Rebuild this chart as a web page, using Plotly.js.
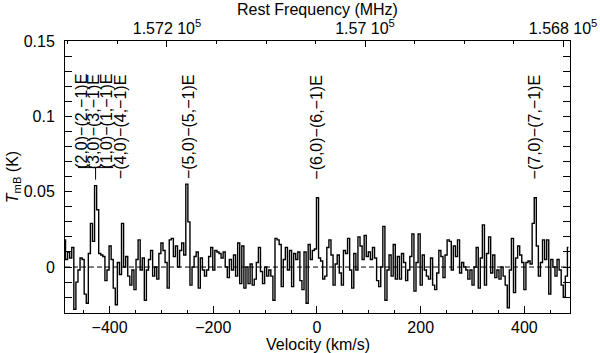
<!DOCTYPE html>
<html>
<head>
<meta charset="utf-8">
<script src="https://cdn.plot.ly/plotly-3.0.1.min.js"></script>
<style>
  html, body { margin: 0; padding: 0; background: #fff; }
  #chart { width: 600px; height: 353px; }
</style>
</head>
<body>
<div id="chart"></div>
<script>
// channel grid of the spectrum (km/s)
const v0 = -487;
const dv = 4;

// main-beam temperature per channel, in mK
const tmbMilliK = [
  18, 5, 10, 6, 13, -28, -10, -2, 6, 5,
  -18, -24, 9, 29, 17, 54, 38, 9, 8, 7,
  -9, -2, 14, 5, -14, -25, 3, -5, 29, 0,
  7, -6, -12, -2, -15, 5, 18, -2, 6, -22,
  -2, 5, 11, -6, 0, -8, 9, 16, 11, 3,
  -14, 18, 19, 7, 14, 0, 11, 16, 8, 55,
  30, -12, 0, 7, 10, -14, 6, -2, -6, -2,
  7, 13, -2, 11, 10, 9, 6, 10, 0, -7,
  5, -2, 8, -6, 16, -11, 14, -14, 0, -11,
  2, -12, -8, 3, 13, -3, -11, 0, -6, -2,
  -6, -22, 19, 18, 15, -13, 5, 13, -2, 11,
  -13, 9, 5, 10, -9, -15, 10, -24, 15, 5,
  11, 12, 46, 6, 4, -8, -6, 13, 18, 8,
  -12, 2, 8, -4, -12, 11, 9, 19, -2, -14,
  9, -2, 20, 14, 5, 21, 7, 10, 5, 13,
  6, -9, -13, 0, 27, -22, -2, 8, -6, 15,
  -8, 7, -8, 9, 3, -9, -2, 7, 22, -16,
  3, 22, -12, 8, -2, -6, -8, 6, -12, -15,
  -4, 11, 7, -7, 8, 18, 17, -2, 14, 7,
  18, -4, 3, 0, -2, -8, -2, -12, 0, 13,
  -14, 6, 28, -12, 9, 20, -4, 8, -7, -2,
  -8, 0, -6, -12, -27, -2, 19, -17, 6, 14,
  8, 3, -15, 3, 4, 2, 29, 46, 14, -6,
  3, 18, 5, 18, -18, 5, 0, -6, 5, -2,
  -12, -20, -6, 13
];
const velocity = tmbMilliK.map((_, i) => v0 + i * dv);
const tmb = tmbMilliK.map(t => t / 1000);

// line identifications (the first three are blended, joined by a bracket)
const lineLabels = [
  '(2,0)−(2,−1)E', '(3,0)−(3,−1)E', '(1,0)−(1,−1)E', '−(4,0)−(4,−1)E',
  '−(5,0)−(5,−1)E', '−(6,0)−(6,−1)E', '−(7,0)−(7,−1)E'
];
const lineVelocities = [-453, -431, -405, -379, -248, 0, 420];
const labelTop = 0.1293;
const bracketLevel = 0.066;
const bracketSpan = [-461, -393];
const bracketVelocity = -427;
const bracketFoot = 0.058;

// top axis: rest frequency (MHz)
const freqRange = [157303, 156793];
const freqTicks = [157200, 157000, 156800];
const freqTickText = ['1.572 10<sup>5</sup>', '1.57 10<sup>5</sup>', '1.568 10<sup>5</sup>'];

const font = {family: '"Liberation Sans", Arial, sans-serif', size: 16, color: '#000'};

const traces = [{
    x: velocity,
    y: tmb,
    type: 'scatter',
    mode: 'lines',
    line: {shape: 'hvh', color: '#000', width: 1.4},
    hoverinfo: 'skip',
    showlegend: false
}, {
    // carries the frequency axis
    x: freqTicks,
    y: freqTicks.map(() => null),
    xaxis: 'x2',
    type: 'scatter',
    mode: 'lines',
    hoverinfo: 'skip',
    showlegend: false
}];

const annotations = lineLabels.map((txt, i) => ({
    text: txt,
    x: lineVelocities[i],
    y: labelTop,
    xref: 'x',
    yref: 'y',
    textangle: -90,
    showarrow: false,
    xanchor: 'center',
    yanchor: 'top',
    font: font
}));

annotations.push({
    text: 'Velocity (km/s)', xref: 'paper', yref: 'paper', x: 0.5, y: 0,
    yshift: -31, showarrow: false, xanchor: 'center', yanchor: 'middle', font: font
});
annotations.push({
    text: 'Rest Frequency (MHz)', xref: 'paper', yref: 'paper', x: 0.5, y: 1,
    yshift: 32, showarrow: false, xanchor: 'center', yanchor: 'middle', font: font
});

const layout = {
    width: 600,
    height: 353,
    margin: {l: 65, r: 30, t: 41, b: 40},
    paper_bgcolor: '#fff',
    plot_bgcolor: '#fff',
    font: font,
    showlegend: false,
    xaxis: {
        range: [-486, 488],
        dtick: 200,
        ticks: 'inside',
        ticklen: 7,
        tickcolor: '#000',
        showline: true,
        linecolor: '#000',
        linewidth: 1,
        showgrid: false,
        zeroline: false,
        tickfont: font,
        minor: {ticks: 'inside', dtick: 50, ticklen: 3.5, tickcolor: '#000', showgrid: false}
    },
    xaxis2: {
        overlaying: 'x',
        side: 'top',
        anchor: 'y',
        range: freqRange,
        tickmode: 'array',
        tickvals: freqTicks,
        ticktext: freqTickText,
        ticks: 'inside',
        ticklen: 6,
        tickcolor: '#000',
        showline: true,
        linecolor: '#000',
        linewidth: 1,
        showgrid: false,
        zeroline: false,
        tickfont: font,
        minor: {ticks: 'inside', dtick: 50, tick0: 156800, ticklen: 3, tickcolor: '#000', showgrid: false}
    },
    yaxis: {
        title: {text: '<i>T</i><sub>mB</sub> (K)', font: font, standoff: 1},
        range: [-0.0305, 0.15],
        dtick: 0.05,
        ticks: 'inside',
        ticklen: 7,
        tickcolor: '#000',
        showline: true,
        linecolor: '#000',
        linewidth: 1,
        mirror: 'allticks',
        showgrid: false,
        zeroline: false,
        tickfont: font,
        ticklabelstandoff: 6,
        minor: {ticks: 'inside', dtick: 0.01, ticklen: 3.5, tickcolor: '#000', showgrid: false}
    },
    shapes: [{
        type: 'line',
        xref: 'paper', x0: 0, x1: 1,
        yref: 'y', y0: 0, y1: 0,
        line: {color: '#000', width: 1, dash: '5px,3px'},
        layer: 'below'
    }, {
        // bracket joining the blended labels
        type: 'line',
        xref: 'x', x0: bracketSpan[0], x1: bracketSpan[1],
        yref: 'y', y0: bracketLevel, y1: bracketLevel,
        line: {color: '#000', width: 1}
    }, {
        type: 'line',
        xref: 'x', x0: bracketVelocity, x1: bracketVelocity,
        yref: 'y', y0: bracketLevel, y1: bracketFoot,
        line: {color: '#000', width: 1}
    }],
    annotations: annotations
};

Plotly.newPlot('chart', traces, layout, {staticPlot: true, displayModeBar: false});
</script>
</body>
</html>
